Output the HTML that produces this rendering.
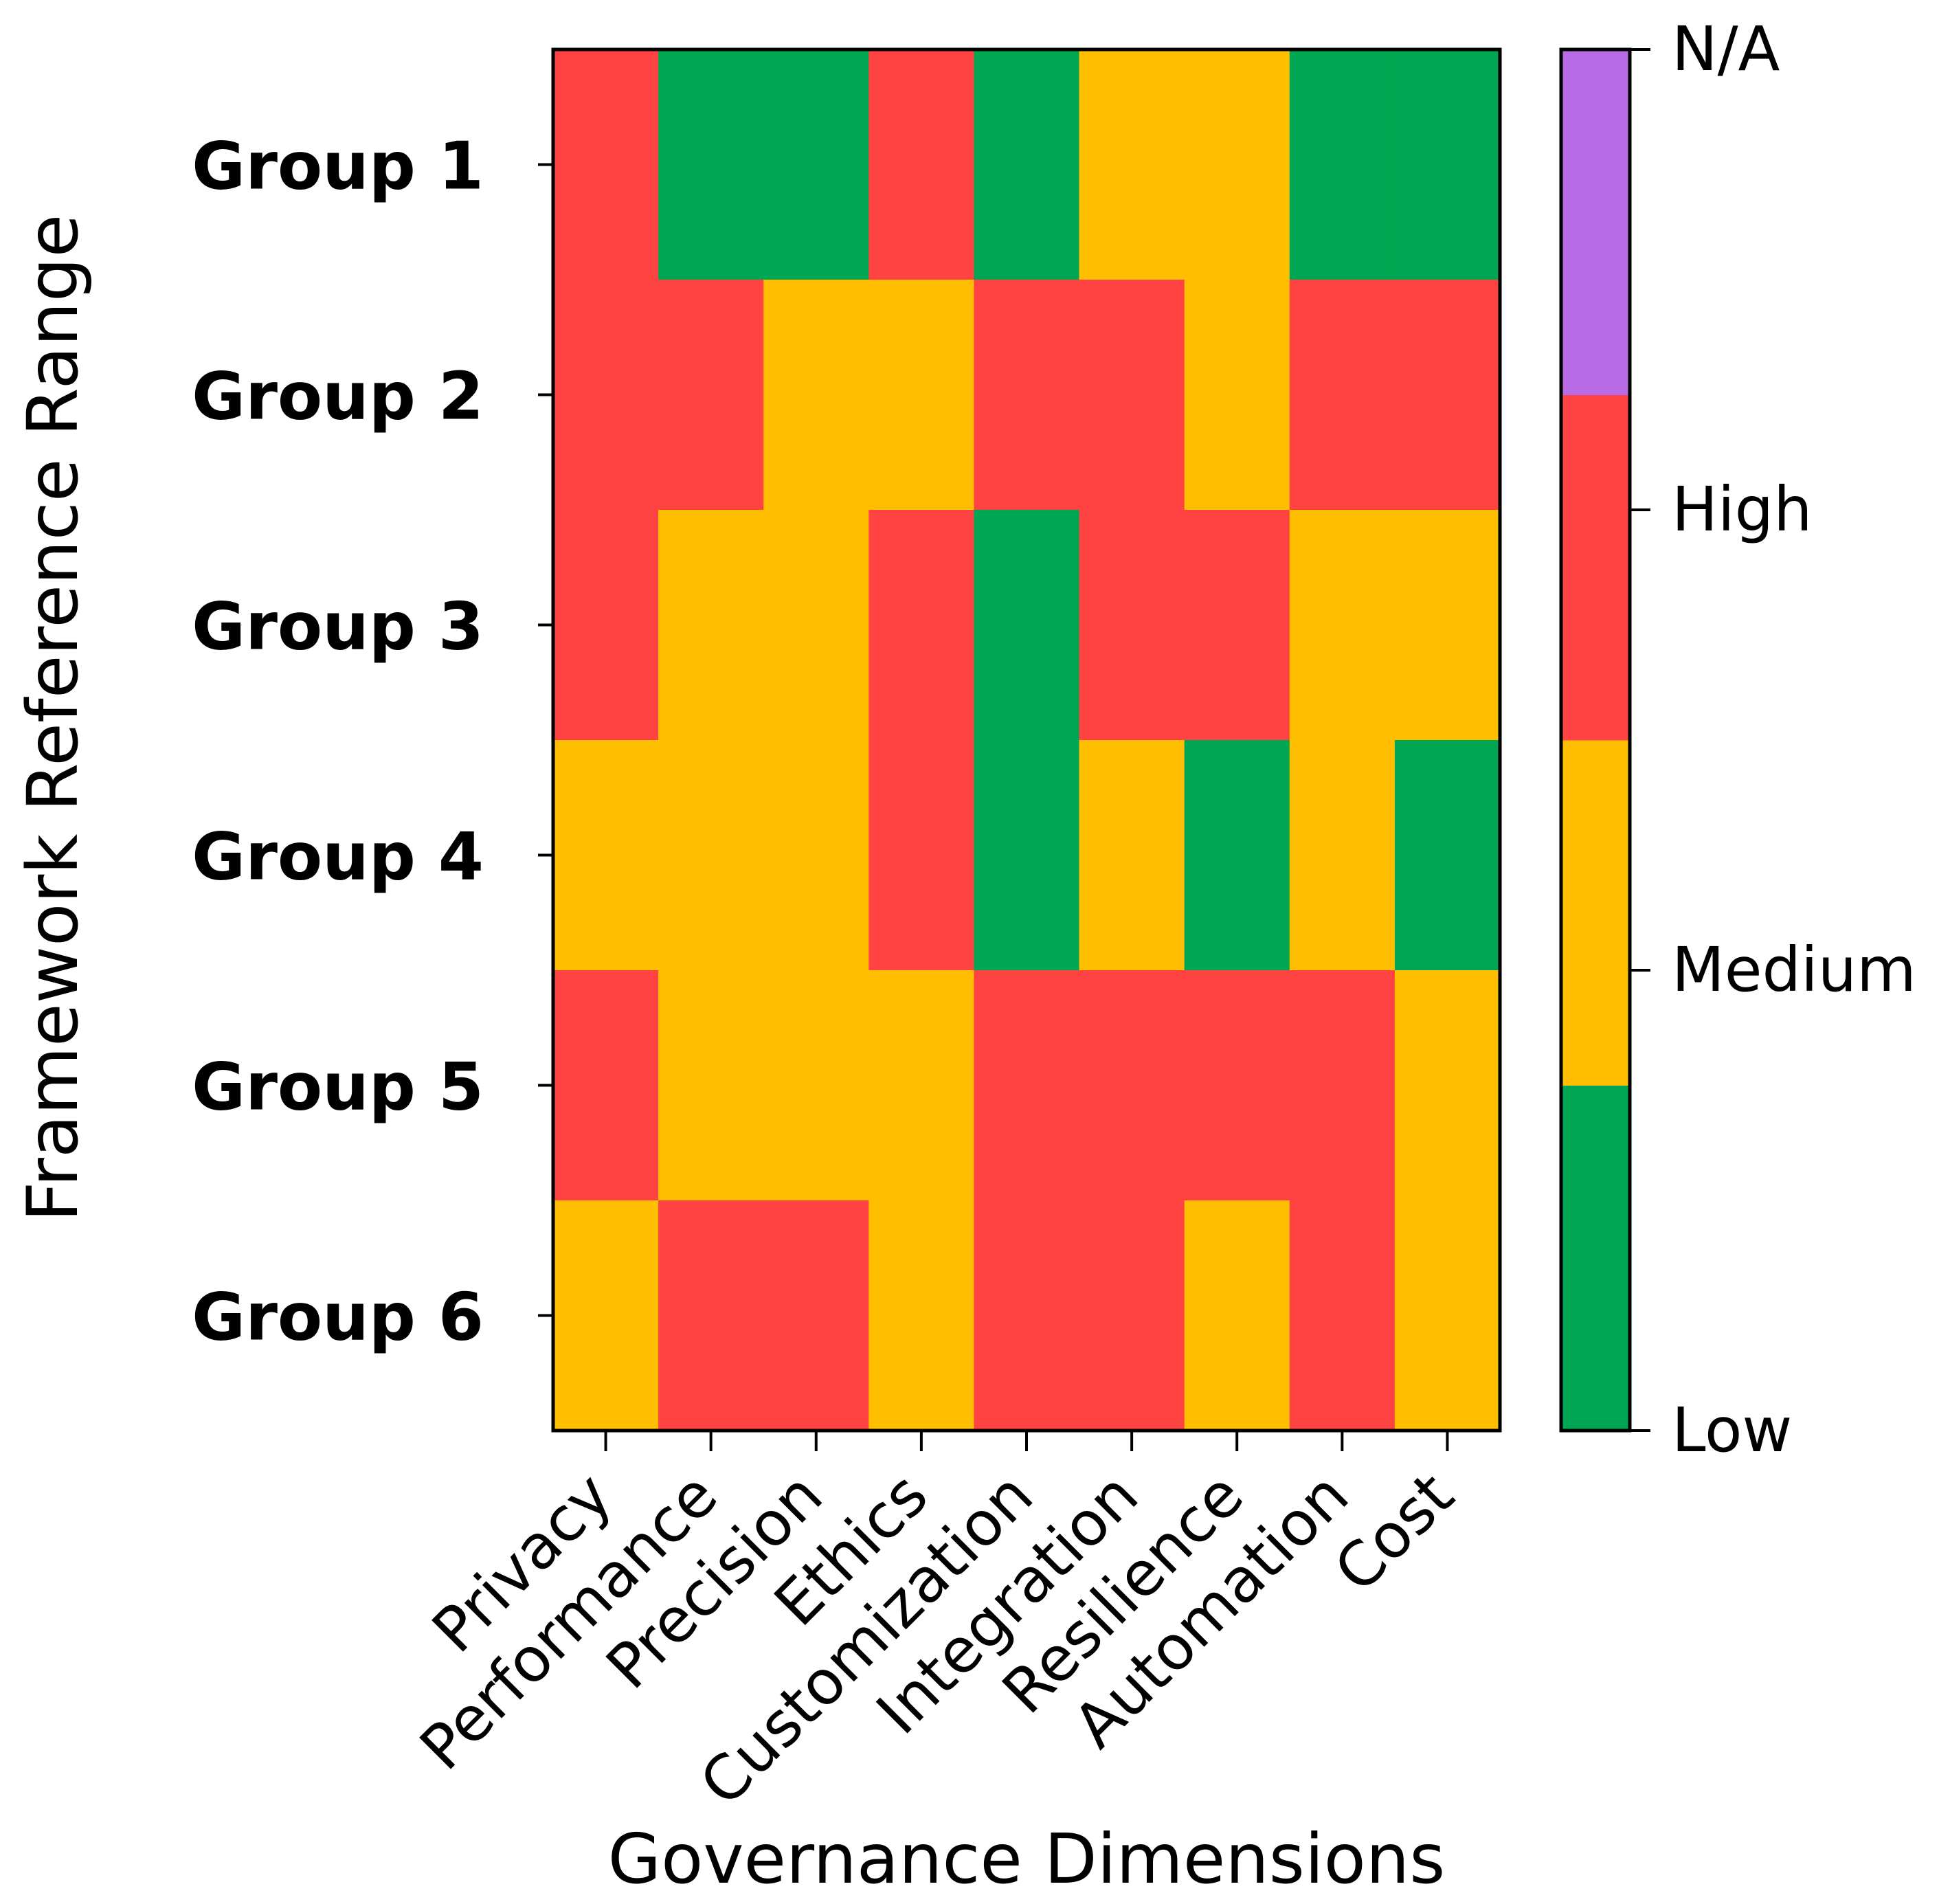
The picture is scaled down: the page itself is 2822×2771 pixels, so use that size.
<!DOCTYPE html>
<html><head><meta charset="utf-8"><style>
html,body{margin:0;padding:0;background:#fff}
svg{display:block}
text{font-family:"DejaVu Sans","Liberation Sans",sans-serif;fill:#000}
</style></head><body>
<svg id="chart" width="2822" height="2771" viewBox="0 0 2822 2771" xmlns="http://www.w3.org/2000/svg">
<g id="cells"></g>
<g id="axes"></g>
<g id="cbar"></g>
</svg>
<script>
const groups = ["Group 1","Group 2","Group 3","Group 4","Group 5","Group 6"];
const dimensions = ["Privacy","Performance","Precision","Ethics","Customization","Integration","Resilience","Automation","Cost"];
// 0 = Low, 1 = Medium, 2 = High, 3 = N/A
const row1 = [2,0,0,2,0,1,1,0,0];
const row2 = [2,2,1,1,2,2,1,2,2];
const row3 = [2,1,1,2,0,2,2,1,1];
const row4 = [1,1,1,2,0,1,0,1,0];
const row5 = [2,1,1,1,2,2,2,2,1];
const row6 = [1,2,2,1,2,2,1,2,1];
const levelLabels = ["Low","Medium","High","N/A"];
const levelColors = ["#00A651","#FFBF00","#FF4242","#B86BE5"];

const NS = "http://www.w3.org/2000/svg";
const rows = [row1,row2,row3,row4,row5,row6];
const L = 805, R = 2183, T = 72, B = 2082;
const cw = (R - L) / dimensions.length, ch = (B - T) / groups.length;
const xPos = i => L + i * cw;
const yPos = j => T + j * ch;
function mk(tag, attrs, parent) {
  const e = document.createElementNS(NS, tag);
  for (const k in attrs) e.setAttribute(k, attrs[k]);
  parent.appendChild(e);
  return e;
}
const cells = document.getElementById('cells');
const axes = document.getElementById('axes');
const cbar = document.getElementById('cbar');

rows.forEach((r, j) => r.forEach((v, i) => {
  const c = mk('rect', {x: xPos(i), y: yPos(j), width: cw + 0.5, height: ch + 0.5, fill: levelColors[v]}, cells);
  
  
}));
const frame = mk('rect', {x: L, y: T, width: R - L, height: B - T, fill: 'none', stroke: '#000', 'stroke-width': 5}, axes);



groups.forEach((g, j) => {
  const y = yPos(j) + ch / 2;
  const t = mk('line', {x1: L - 22, x2: L, y1: y, y2: y, stroke: '#000', 'stroke-width': 4}, axes);
  
  
  const tx = mk('text', {x: 704, y: y + 35, 'text-anchor': 'end', 'font-size': 95, 'font-weight': 'bold'}, axes);
  tx.textContent = g;
  
  
});
dimensions.forEach((d, i) => {
  const x = xPos(i) + cw / 2;
  const t = mk('line', {x1: x, x2: x, y1: B, y2: B + 30, stroke: '#000', 'stroke-width': 4}, axes);
  
  
  const tx = mk('text', {x: 0, y: 0, 'text-anchor': 'end', 'font-size': 89, transform: `translate(${x + 14},${B + 100}) rotate(-45)`}, axes);
  tx.textContent = d;
  
  
});
const xt = mk('text', {x: 1494, y: 2740, 'text-anchor': 'middle', 'font-size': 100}, axes);
xt.textContent = "Governance Dimensions";


const yt = mk('text', {x: 0, y: 0, 'text-anchor': 'middle', 'font-size': 102, transform: 'translate(112,1045) rotate(-90)'}, axes);
yt.textContent = "Framework Reference Range";



// colorbar
const CL = 2272, CR = 2372;
const segH = (B - T) / levelColors.length;
levelColors.forEach((c, k) => {
  const r = mk('rect', {x: CL, y: B - (k + 1) * segH, width: CR - CL, height: segH + 0.5, fill: c}, cbar);
  
  
});
const cf = mk('rect', {x: CL, y: T, width: CR - CL, height: B - T, fill: 'none', stroke: '#000', 'stroke-width': 5}, cbar);


levelLabels.forEach((lab, k) => {
  const y = B - k * (B - T) / (levelLabels.length - 1);
  const t = mk('line', {x1: CR, x2: CR + 30, y1: y, y2: y, stroke: '#000', 'stroke-width': 4}, cbar);
  
  
  const tx = mk('text', {x: 2433, y: y + 30, 'font-size': 89}, cbar);
  tx.textContent = lab;
  
  
});
</script>
</body></html>
